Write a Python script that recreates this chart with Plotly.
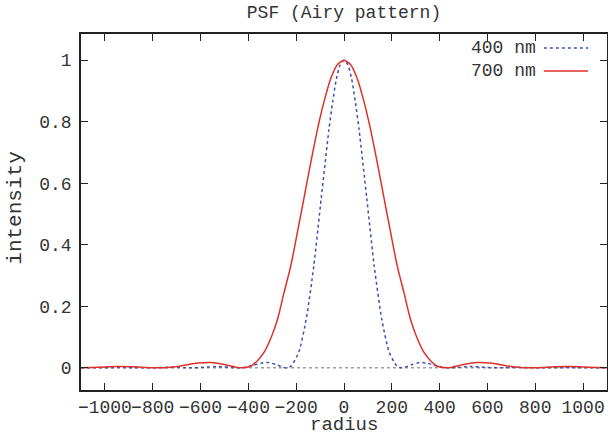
import plotly.graph_objects as go

# Half profiles (radius >= 0); curves are symmetric about 0
r_400 = [0, 16, 32, 47, 63, 95, 126, 158, 189, 221, 241, 252, 284, 315, 347, 378, 410, 441,
         473, 504, 536, 567, 599, 630, 662, 693, 725, 756, 788, 819, 851, 882, 914,
         945, 977, 1008, 1040, 1071, 1100]
i_400 = [1.0, 0.985, 0.939, 0.867, 0.775, 0.553, 0.333, 0.158, 0.051, 0.006, 0.0, 0.001, 0.0106,
         0.0172, 0.0154, 0.0085, 0.0022, 0.0, 0.0013, 0.0034, 0.0041, 0.0030, 0.0012,
         0.0001, 0.0002, 0.0010, 0.0016, 0.0014, 0.0007, 0.0001, 0.0, 0.0004, 0.0007,
         0.0008, 0.0005, 0.0001, 0.0, 0.0001, 0.0003]

r_700 = [0, 28, 56, 83, 111, 139, 167, 195, 222, 250, 278, 306, 334, 361, 389, 426, 445,
         500, 556, 612, 667, 723, 778, 834, 890, 945, 1001, 1056, 1100]
i_700 = [1.0, 0.985, 0.939, 0.867, 0.775, 0.667, 0.553, 0.440, 0.333, 0.247, 0.158, 0.096,
         0.051, 0.024, 0.006, 0.0, 0.001, 0.0106, 0.0172, 0.0154, 0.0085, 0.0022, 0.0,
         0.0013, 0.0034, 0.0041, 0.0030, 0.0012, 0.0002]

x_ticks = [-1000, -800, -600, -400, -200, 0, 200, 400, 600, 800, 1000]
y_ticks = [0, 0.2, 0.4, 0.6, 0.8, 1]
series_names = ["400 nm", "700 nm"]


def mirror(r, v):
    xs = [-a for a in reversed(r[1:])] + list(r)
    ys = list(reversed(v[1:])) + list(v)
    return xs, ys


x4, y4 = mirror(r_400, i_400)
x7, y7 = mirror(r_700, i_700)

BLUE = "#3a52ad"
RED = "#e0302a"
TXT = "#333333"
FONT = "Liberation Mono, Courier New, monospace"

W, H = 608, 435

fig = go.Figure()
fig.add_trace(go.Scatter(x=x4, y=y4, mode="lines", name=series_names[0],
                         line=dict(color=BLUE, width=1.5, dash="dot", shape="spline", smoothing=0.6)))
fig.add_trace(go.Scatter(x=x7, y=y7, mode="lines", name=series_names[1],
                         line=dict(color=RED, width=1.5, shape="spline", smoothing=0.6)))

# dotted zero axis
fig.add_shape(type="line", xref="paper", yref="y", x0=0, x1=1, y0=0, y1=0,
              line=dict(color="#a0a0a0", width=1.5, dash="dot"), layer="below")

# legend (gnuplot style: text then sample)
leg_y = [0.961, 0.896]
for name, col, dash, yy in [(series_names[0], BLUE, "dot", leg_y[0]),
                            (series_names[1], RED, "solid", leg_y[1])]:
    fig.add_annotation(xref="paper", yref="paper", x=0.869, y=yy, text=name,
                       showarrow=False, xanchor="right", yanchor="middle",
                       font=dict(family=FONT, size=18, color=TXT))
    fig.add_shape(type="line", xref="paper", yref="paper", x0=0.880, x1=0.964,
                  y0=yy, y1=yy, line=dict(color=col, width=1.5, dash=dash))

fig.add_annotation(xref="paper", yref="paper", x=0.5, y=-0.099, text="radius",
                   showarrow=False, xanchor="center", yanchor="middle",
                   font=dict(family=FONT, size=19, color=TXT))
fig.add_annotation(xref="paper", yref="paper", x=-0.125, y=0.51, text="intensity",
                   showarrow=False, xanchor="center", yanchor="middle", textangle=-90,
                   font=dict(family=FONT, size=21, color=TXT))

fig.update_layout(
    width=W, height=H,
    margin=dict(l=81, r=1, t=34, b=45),
    paper_bgcolor="white", plot_bgcolor="white",
    showlegend=False,
    title=dict(text="PSF (Airy pattern)", x=0.5, xref="paper", y=1 - 12 / H,
               yanchor="middle", xanchor="center",
               font=dict(family=FONT, size=18, color=TXT)),
    font=dict(family=FONT, size=18, color=TXT),
)
fig.update_xaxes(range=[-1100, 1100], tickvals=x_ticks, ticks="inside", ticklen=7,
                 tickwidth=1.2, tickcolor="#222", mirror="ticks", showline=True,
                 linecolor="#222", linewidth=1.5, showgrid=False, zeroline=False,
                 tickangle=0, automargin=False,
                 ticklabelstandoff=0, tickfont=dict(family=FONT, size=18, color=TXT))
fig.update_yaxes(range=[-0.072, 1.085], tickvals=y_ticks, ticks="inside", ticklen=7,
                 tickwidth=1.2, tickcolor="#222", mirror="ticks", showline=True,
                 linecolor="#222", linewidth=1.5, showgrid=False, zeroline=False,
                 automargin=False,
                 ticklabelstandoff=4, tickfont=dict(family=FONT, size=18, color=TXT))

fig.write_html("out.html", config={"displayModeBar": False},
               post_script="document.body.style.margin='0';document.body.style.padding='0';")
